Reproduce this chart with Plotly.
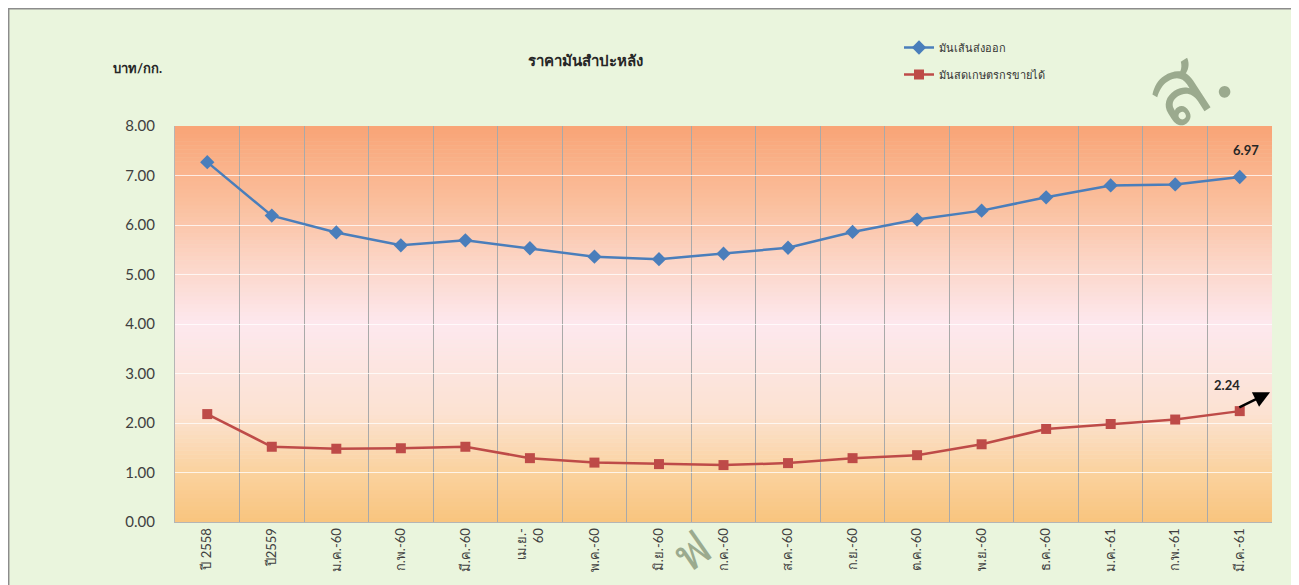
import plotly.graph_objects as go

categories = ["ปี 2558", "ปี2559", "ม.ค.-60", "ก.พ.-60", "มี.ค.-60", "เม.ย.-<br>60", "พ.ค.-60",
              "มิ.ย.-60", "ก.ค.-60", "ส.ค.-60", "ก.ย.-60", "ต.ค.-60", "พ.ย.-60", "ธ.ค.-60",
              "ม.ค.-61", "ก.พ.-61", "มี.ค.-61"]
export_price = [7.27, 6.19, 5.85, 5.59, 5.69, 5.53, 5.36, 5.31, 5.42, 5.54, 5.86, 6.11, 6.29,
                6.56, 6.80, 6.82, 6.97]
farm_price = [2.18, 1.52, 1.48, 1.49, 1.52, 1.29, 1.20, 1.17, 1.15, 1.19, 1.29, 1.35, 1.57,
              1.88, 1.98, 2.07, 2.24]
series_names = ["มันเส้นส่งออก", "มันสดเกษตรกรขายได้"]
title_text = "ราคามันสำปะหลัง"
y_unit = "บาท/กก."

OFF = 8  # page body margin
W, H = 1299 - OFF, 585 - OFF
PL, PR, PT, PB = 175, 1272, 126, 522  # plot area in screen pixels
L, R, T, B = PL - OFF, (1299 - OFF) - (PR - OFF), PT - OFF, H - (PB - OFF)
pw, ph = PR - PL, PB - PT

def px_x(p):
    return (p - PL) / pw

def px_y(p):
    return (PB - p) / ph

BLUE = "#4A7EBB"
RED = "#BE4B48"
TXT = "#404040"
FONT = "Lato, 'Noto Sans', sans-serif"

fig = go.Figure()
fig.add_trace(go.Scatter(
    x=categories, y=export_price, name=series_names[0], mode="lines+markers",
    line=dict(color=BLUE, width=2.5), marker=dict(symbol="diamond", size=11, color=BLUE),
    legendgroup="a"))
fig.add_trace(go.Scatter(
    x=categories, y=farm_price, name=series_names[1], mode="lines+markers",
    line=dict(color=RED, width=2.5), marker=dict(symbol="square", size=10, color=RED),
    legendgroup="b"))

shapes = []
shapes.append(dict(type="rect", xref="paper", yref="paper",
                   x0=px_x(8.7), x1=px_x(1292.5), y0=px_y(600), y1=px_y(8.7),
                   fillcolor="#EAF5DD", line=dict(color="#8C8C8C", width=1.5), layer="below"))

stops = [(0.0, (249, 196, 126)), (1.0, (250, 210, 158)), (2.2, (252, 226, 210)),
         (4.0, (253, 232, 238)), (5.2, (252, 214, 200)), (6.5, (250, 190, 155)),
         (8.0, (249, 164, 118))]

def col_at(v):
    for (a, ca), (b, cb) in zip(stops[:-1], stops[1:]):
        if a <= v <= b:
            t = (v - a) / (b - a)
            c = [round(ca[i] + (cb[i] - ca[i]) * t) for i in range(3)]
            return "rgb(%d,%d,%d)" % tuple(c)
    return "rgb(%d,%d,%d)" % stops[-1][1]

n = 100
for i in range(n):
    y0 = 8.0 * i / n
    y1 = 8.0 * (i + 1) / n
    shapes.append(dict(type="rect", xref="x", yref="y", x0=-0.5, x1=len(categories) - 0.5,
                       y0=y0, y1=y1 + 0.01, fillcolor=col_at((y0 + y1) / 2),
                       line=dict(width=0), layer="below"))

def ann(text, x, y, size, color="#262626", **kw):
    d = dict(text=text, x=x, y=y, xref="paper", yref="paper", showarrow=False,
             xanchor="center", yanchor="middle", font=dict(size=size, color=color, family=FONT))
    d.update(kw)
    return d

annotations = [
    # watermark fragments
    ann("ส.", px_x(1185), px_y(82), 92, color="#9BAA8E", textangle=-33),
    ann("ฟ", px_x(690), px_y(550), 48, color="#9BAA8E", textangle=-35),
    ann("<b>%s</b>" % title_text, px_x(585), px_y(60), 15),
    ann("<b>%s</b>" % y_unit, px_x(137), px_y(68), 13),
    dict(text="<b>%.2f</b>" % export_price[-1], x=categories[-1], y=export_price[-1],
         xref="x", yref="y", showarrow=False, yshift=27, xshift=6,
         font=dict(size=13, color="#262626", family=FONT)),
    dict(text="<b>%.2f</b>" % farm_price[-1], x=categories[-1], y=farm_price[-1],
         xref="x", yref="y", showarrow=False, yshift=26, xshift=-13,
         font=dict(size=13, color="#262626", family=FONT)),
    dict(text="", x=16.47, y=2.62, xref="x", yref="y", ax=15.97, ay=2.30,
         axref="x", ayref="y", showarrow=True, arrowhead=2, arrowsize=1.3,
         arrowwidth=2.5, arrowcolor="#000000"),
]

fig.update_layout(
    width=W, height=H,
    margin=dict(l=L, r=R, t=T, b=B),
    paper_bgcolor="white", plot_bgcolor="rgba(0,0,0,0)",
    shapes=shapes, annotations=annotations,
    font=dict(family=FONT, color=TXT),
    showlegend=True,
    legend=dict(x=px_x(899), y=px_y(33), xanchor="left", yanchor="top",
                bgcolor="rgba(0,0,0,0)", font=dict(size=11, color="#333333"),
                tracegroupgap=8, itemwidth=30),
)
fig.update_xaxes(
    type="category", categoryorder="array", categoryarray=categories,
    range=[-0.5, len(categories) - 0.5], tickangle=-90, tickson="boundaries",
    showgrid=True, gridcolor="#A9A9A9", gridwidth=1,
    showline=True, linecolor="#B5B5B5", linewidth=1, ticks="",
    tickfont=dict(size=13, color=TXT, family=FONT))
fig.update_yaxes(
    range=[0, 8], dtick=1, tick0=0, tickformat=".2f",
    showgrid=True, gridcolor="rgba(255,255,255,0.75)", gridwidth=1, zeroline=False,
    showline=True, linecolor="#B5B5B5", linewidth=1, ticks="", ticklabelstandoff=16,
    tickfont=dict(size=15, color=TXT, family=FONT))

fig.write_html("out.html")
